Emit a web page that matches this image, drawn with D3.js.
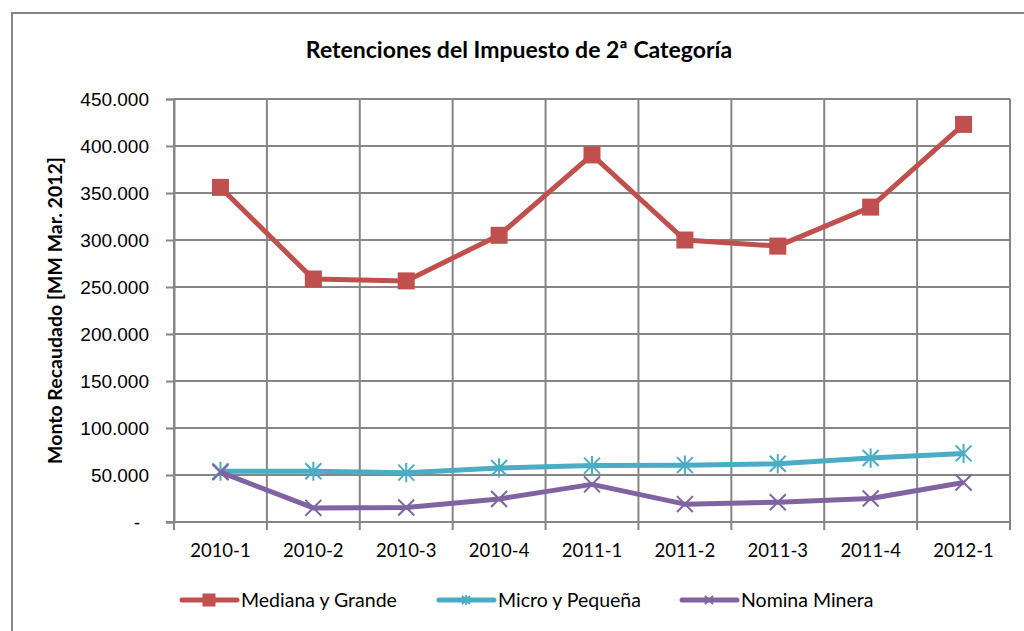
<!DOCTYPE html>
<html>
<head>
<meta charset="utf-8">
<script src="https://cdn.jsdelivr.net/npm/d3@7"></script>
<style>
  body { margin: 0; background: #fff; }
  svg { font-family: Lato, "Open Sans", sans-serif; }
</style>
</head>
<body>
<div class="container"></div>
<script>
// data
const periods = ['2010-1', '2010-2', '2010-3', '2010-4', '2011-1', '2011-2', '2011-3', '2011-4', '2012-1'];
const medianaGrande = [356000, 258500, 256500, 305000, 390500, 300000, 293500, 335000, 423000];
const microPequena = [54000, 54000, 52500, 57500, 60000, 60500, 62000, 68000, 73000];
const nominaMinera = [53000, 15000, 15500, 24500, 40000, 19000, 21000, 25000, 42000];
const yTicks = [0, 50000, 100000, 150000, 200000, 250000, 300000, 350000, 400000, 450000];

const series = [
    {name: 'Mediana y Grande', values: medianaGrande, color: '#C0504D', marker: 'square'},
    {name: 'Micro y Pequeña', values: microPequena, color: '#4BACC6', marker: 'star'},
    {name: 'Nomina Minera', values: nominaMinera, color: '#8064A2', marker: 'cross'}
];

const width = 1024, height = 631;
const margin = {top: 99, right: 14, bottom: 109, left: 174};
const gridColor = '#868686';

const svg = d3.select('.container')
    .append('svg')
    .attr('width', width)
    .attr('height', height);

// chart border
svg.append('rect')
    .attr('x', 12).attr('y', 13)
    .attr('width', width + 10).attr('height', height)
    .attr('fill', 'none')
    .attr('stroke', gridColor)
    .attr('stroke-width', 2);

svg.append('text')
    .attr('x', 519).attr('y', 58)
    .attr('text-anchor', 'middle')
    .attr('font-size', 23)
    .attr('font-weight', 'bold')
    .text('Retenciones del Impuesto de 2ª Categoría');

const x = d3.scaleBand().domain(periods).range([margin.left, width - margin.right]);
const y = d3.scaleLinear().domain([0, 450000]).range([height - margin.bottom, margin.top]);

const fmt = v => v === 0 ? '-' : d3.format(',')(v).replace(/,/g, '.');

// horizontal grid + y axis
const yAxis = svg.append('g')
    .attr('transform', `translate(${margin.left},0)`)
    .call(d3.axisLeft(y).tickValues(yTicks).tickFormat(fmt).tickSize(8).tickPadding(17));
yAxis.select('.domain').attr('stroke', gridColor).attr('stroke-width', 2);
yAxis.selectAll('.tick line').attr('stroke', gridColor).attr('stroke-width', 2);
yAxis.selectAll('.tick text').attr('font-size', 19).attr('fill', '#000');
yAxis.selectAll('.tick').filter(d => d === 0).select('text').attr('dx', -9);

svg.append('g').selectAll('line')
    .data(yTicks.filter(d => d > 0))
    .join('line')
    .attr('x1', margin.left).attr('x2', width - margin.right)
    .attr('y1', d => y(d)).attr('y2', d => y(d))
    .attr('stroke', gridColor).attr('stroke-width', 2);

// vertical grid at category boundaries
const bounds = periods.map(p => x(p)).concat([x(periods[periods.length - 1]) + x.bandwidth()]);
svg.append('g').selectAll('line')
    .data(bounds)
    .join('line')
    .attr('x1', d => d).attr('x2', d => d)
    .attr('y1', margin.top).attr('y2', height - margin.bottom + 8)
    .attr('stroke', gridColor).attr('stroke-width', 2);

// x axis
svg.append('line')
    .attr('x1', margin.left - 8).attr('x2', width - margin.right)
    .attr('y1', y(0)).attr('y2', y(0))
    .attr('stroke', gridColor).attr('stroke-width', 2);
svg.append('g').selectAll('text')
    .data(periods)
    .join('text')
    .attr('x', d => x(d) + x.bandwidth() / 2)
    .attr('y', y(0) + 35)
    .attr('text-anchor', 'middle')
    .attr('font-size', 18.5)
    .text(d => d);

// y axis title
svg.append('text')
    .attr('transform', `translate(62,${(y(0) + y(450000)) / 2}) rotate(-90)`)
    .attr('text-anchor', 'middle')
    .attr('font-size', 19.5)
    .attr('font-weight', 'bold')
    .text('Monto Recaudado [MM Mar. 2012]');

function drawMarker(g, type, color, cx, cy, s) {
    if (type === 'square') {
        g.append('rect')
            .attr('x', cx - s / 2).attr('y', cy - s / 2)
            .attr('width', s).attr('height', s)
            .attr('fill', color);
    } else {
        const h = s / 2;
        const path = d3.path();
        path.moveTo(cx - h, cy - h); path.lineTo(cx + h, cy + h);
        path.moveTo(cx - h, cy + h); path.lineTo(cx + h, cy - h);
        if (type === 'star') {
            path.moveTo(cx, cy - h * 1.2); path.lineTo(cx, cy + h * 1.2);
        }
        g.append('path').attr('d', path.toString())
            .attr('stroke', color).attr('stroke-width', 2).attr('fill', 'none');
    }
}

const line = d3.line()
    .x((d, i) => x(periods[i]) + x.bandwidth() / 2)
    .y(d => y(d));

series.forEach(s => {
    const g = svg.append('g');
    g.append('path')
        .attr('d', line(s.values))
        .attr('fill', 'none')
        .attr('stroke', s.color)
        .attr('stroke-width', 5)
        .attr('stroke-linejoin', 'round');
    s.values.forEach((v, i) => {
        drawMarker(g, s.marker, s.color, x(periods[i]) + x.bandwidth() / 2, y(v), s.marker === 'square' ? 17 : 16);
    });
});

// legend
const legendX = [182, 439, 682];
series.forEach((s, i) => {
    const g = svg.append('g');
    const lx = legendX[i], ly = 600;
    g.append('line')
        .attr('x1', lx).attr('x2', lx + 55)
        .attr('y1', ly).attr('y2', ly)
        .attr('stroke', s.color).attr('stroke-width', 5)
        .attr('stroke-linecap', 'round');
    drawMarker(g, s.marker, s.color, lx + 27, ly, s.marker === 'square' ? 13 : 8);
    g.append('text')
        .attr('x', lx + 59).attr('y', ly + 7)
        .attr('font-size', 19.5)
        .text(s.name);
});
</script>
</body>
</html>
